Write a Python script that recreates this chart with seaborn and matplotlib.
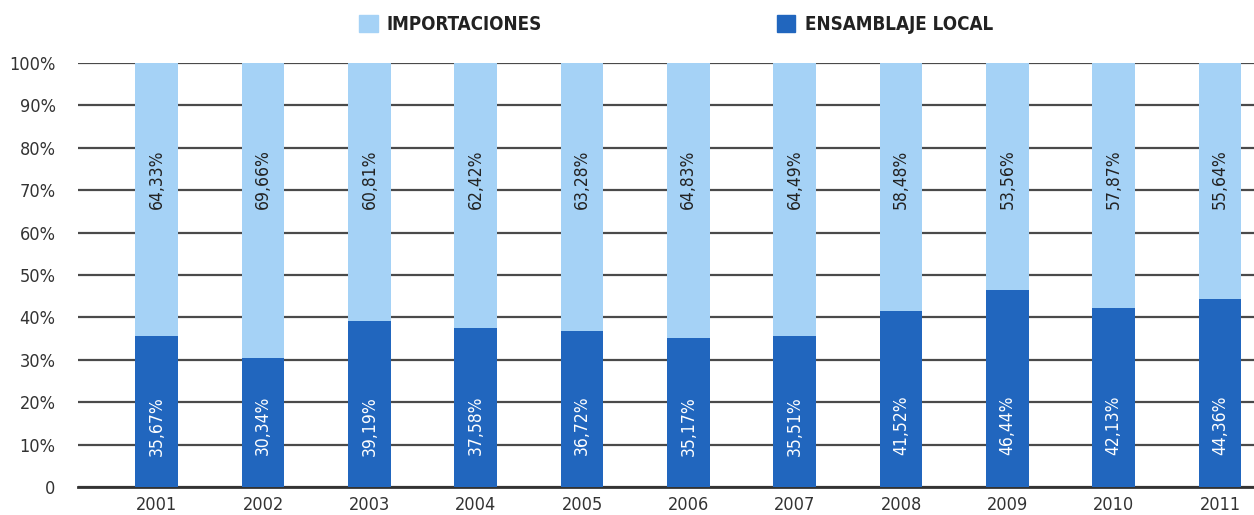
import numpy as np
import pandas as pd
import matplotlib
matplotlib.use('Agg')
import matplotlib.pyplot as plt
import matplotlib.patches as mpatches
import seaborn as sns

years = ['2001', '2002', '2003', '2004', '2005', '2006', '2007', '2008', '2009', '2010', '2011']
importaciones = [64.33, 69.66, 60.81, 62.42, 63.28, 64.83, 64.49, 58.48, 53.56, 57.87, 55.64]
ensamblaje = [35.67, 30.34, 39.19, 37.58, 36.72, 35.17, 35.51, 41.52, 46.44, 42.13, 44.36]
yticks = [0, 10, 20, 30, 40, 50, 60, 70, 80, 90, 100]
ytick_labels = ['0', '10%', '20%', '30%', '40%', '50%', '60%', '70%', '80%', '90%', '100%']

light = '#a5d2f6'
dark = '#2166be'

sns.set_style('white')
plt.rcParams['font.family'] = ['DejaVu Sans']
plt.rcParams['font.stretch'] = 'condensed'

df = pd.DataFrame({'year': years, 'imp': importaciones, 'loc': ensamblaje})
df['total'] = df['imp'] + df['loc']

fig = plt.figure(figsize=(12.54, 5.15), dpi=100)
ax = fig.add_axes([0.062, 0.054, 0.938, 0.824])

sns.barplot(data=df, x='year', y='total', color=light, width=0.4, saturation=1,
            linewidth=0, ax=ax, zorder=2)
sns.barplot(data=df, x='year', y='loc', color=dark, width=0.4, saturation=1,
            linewidth=0, ax=ax, zorder=3)

# value labels, rotated inside bars
for i, row in df.iterrows():
    ax.text(i, 72.5, f"{row['imp']:.2f}%".replace('.', ','), rotation=90, ha='center', va='center',
            fontsize=12.5, color='#222222', zorder=4)
    ax.text(i, 14.5, f"{row['loc']:.2f}%".replace('.', ','), rotation=90, ha='center', va='center',
            fontsize=12.5, color='white', zorder=4)

ax.set_ylim(0, 100)
ax.set_xlim(-0.743, 10.32)
ax.set_yticks(yticks)
ax.set_yticklabels(ytick_labels)
ax.yaxis.grid(True, color='#4a4a4a', linewidth=1.6, zorder=1)
ax.xaxis.grid(False)
ax.set_axisbelow(True)
for s in ['top', 'right', 'left']:
    ax.spines[s].set_visible(False)
ax.spines['bottom'].set_color('#333333')
ax.spines['bottom'].set_linewidth(2)
ax.tick_params(axis='both', length=0, labelsize=13, colors='#333333')
ax.tick_params(axis='y', pad=16)
ax.tick_params(axis='x', pad=6)
ax.set_xlabel('')
ax.set_ylabel('')

handles = [mpatches.Patch(color=light, label='IMPORTACIONES'),
           mpatches.Patch(color=dark, label='ENSAMBLAJE LOCAL')]
leg = fig.legend(handles=handles, loc='center', bbox_to_anchor=(0.539, 0.953), ncol=2,
                 frameon=False, fontsize=13.5, handlelength=1.0, handleheight=1.0,
                 handletextpad=0.5, columnspacing=12.5)
for t in leg.get_texts():
    t.set_color('#222222')
    t.set_fontweight('bold')

fig.savefig('out.png', dpi=100)
